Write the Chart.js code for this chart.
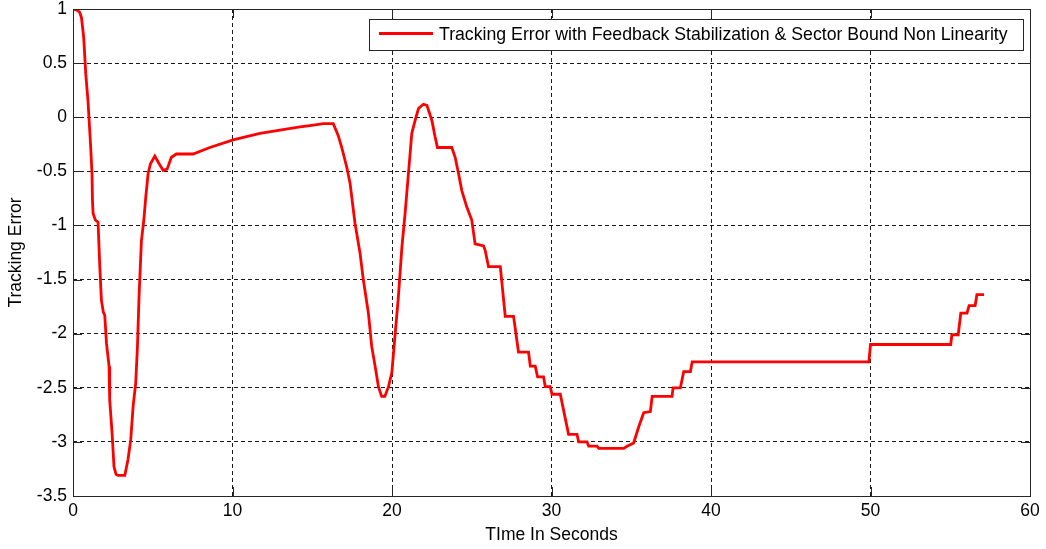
<!DOCTYPE html>
<html>
<head>
<meta charset="utf-8">
<script src="https://cdn.jsdelivr.net/npm/chart.js@4/dist/chart.umd.min.js"></script>
<style>
  html, body { margin: 0; padding: 0; background: #ffffff; }
  #wrap { width: 1046px; height: 549px; position: relative; }
</style>
</head>
<body>
<div id="wrap"><canvas id="c" width="1046" height="549"></canvas></div>
<script>
// ---- data ----
const seriesLabel = 'Tracking Error with Feedback Stabilization & Sector Bound Non Linearity';
const timeSeconds = [
  0, 0.25, 0.42, 0.53, 0.67, 0.80, 0.94, 1.0, 1.11, 1.19, 1.22, 1.26, 1.40, 1.57, 1.68, 1.78, 1.90, 1.99,
  2.10, 2.26, 2.30, 2.45, 2.57, 2.70, 2.82, 3.25, 3.45, 3.62, 3.77, 3.93, 4.04, 4.14, 4.29, 4.44, 4.56,
  4.71, 4.86, 5.13, 5.40, 5.65, 5.90, 6.17, 6.49, 7.53, 8.58, 10.04, 11.72, 14.23, 14.86, 15.69, 16.32,
  16.63, 16.85, 17.16, 17.37, 17.68, 18.0, 18.2, 18.52, 18.73, 18.94, 19.15, 19.35, 19.55, 19.78, 19.99,
  20.2, 20.4, 20.62, 20.82, 21.03, 21.24, 21.45, 21.66, 21.97, 22.19, 22.5, 22.7, 22.85, 23.75, 23.96,
  24.17, 24.38, 24.69, 25.0, 25.21, 25.74, 25.84, 26.05, 26.79, 27.1, 27.62, 27.93, 28.56, 28.67, 28.98,
  29.13, 29.5, 29.61, 29.92, 30.03, 30.55, 31.07, 31.6, 31.7, 32.23, 32.33, 32.85, 32.96, 34.53, 34.74,
  35.15, 35.47, 35.78, 36.2, 36.31, 37.56, 37.62, 38.08, 38.29, 38.71, 38.82, 49.9, 50.0, 55.03, 55.1,
  55.5, 55.66, 56.05, 56.18, 56.56, 56.67, 57.12
];
const trackingError = [
  1, 0.99, 0.97, 0.92, 0.74, 0.40, 0.15, 0, -0.28, -0.52, -0.77, -0.89, -0.95, -0.97, -1.38, -1.69, -1.80, -1.83,
  -2.09, -2.30, -2.61, -2.92, -3.23, -3.30, -3.31, -3.31, -3.16, -2.98, -2.67, -2.46, -2.12, -1.66, -1.14, -0.95, -0.74,
  -0.52, -0.43, -0.36, -0.43, -0.49, -0.48, -0.37, -0.34, -0.34, -0.28, -0.21, -0.15, -0.09, -0.077, -0.06, -0.06,
  -0.17, -0.28, -0.46, -0.61, -0.98, -1.26, -1.5, -1.81, -2.12, -2.30, -2.49, -2.58, -2.58, -2.49, -2.36,
  -2.0, -1.66, -1.2, -0.89, -0.52, -0.15, -0.03, 0.08, 0.12, 0.11, -0.03, -0.18, -0.28, -0.28, -0.37,
  -0.52, -0.68, -0.83, -0.95, -1.17, -1.19, -1.23, -1.38, -1.38, -1.84, -1.84, -2.17, -2.17, -2.30, -2.30,
  -2.40, -2.40, -2.49, -2.49, -2.56, -2.56, -2.93, -2.93, -3.0, -3.0, -3.04, -3.04, -3.06, -3.06, -3.04,
  -3.01, -2.86, -2.73, -2.72, -2.58, -2.58, -2.50, -2.50, -2.35, -2.35, -2.26, -2.26, -2.10, -2.10, -2.01,
  -2.01, -1.81, -1.81, -1.74, -1.74, -1.64, -1.64
];
const xTicks = [0, 10, 20, 30, 40, 50, 60];
const yTicks = [-3.5, -3, -2.5, -2, -1.5, -1, -0.5, 0, 0.5, 1];
const xTitle = 'TIme In Seconds';
const yTitle = 'Tracking Error';

// ---- styling ----
const FONT = 'Liberation Sans, Arial, sans-serif';
const FS = 17.5;
const AXIS_COLOR = '#262626';

const points = timeSeconds.map((t, i) => ({ x: t, y: trackingError[i] }));

const boxAndTicks = {
  id: 'boxAndTicks',
  afterDraw(chart) {
    const { ctx, chartArea: a, scales } = chart;
    const TL = 9;
    ctx.save();
    ctx.strokeStyle = AXIS_COLOR;
    ctx.lineWidth = 1;
    ctx.setLineDash([]);
    ctx.beginPath();
    xTicks.forEach(v => {
      const px = Math.round(scales.x.getPixelForValue(v)) + 0.5;
      ctx.moveTo(px, a.bottom); ctx.lineTo(px, a.bottom - TL);
      ctx.moveTo(px, a.top); ctx.lineTo(px, a.top + TL);
    });
    yTicks.forEach(v => {
      const py = Math.round(scales.y.getPixelForValue(v)) + 0.5;
      ctx.moveTo(a.left, py); ctx.lineTo(a.left + TL, py);
      ctx.moveTo(a.right, py); ctx.lineTo(a.right - TL, py);
    });
    ctx.stroke();
    ctx.strokeRect(Math.round(a.left) + 0.5, Math.round(a.top) + 0.5,
                   Math.round(a.right - a.left), Math.round(a.bottom - a.top));

    // legend box inside the axes (top right)
    const ds = chart.data.datasets[0];
    const LFS = 17.7;
    ctx.font = LFS + 'px ' + FONT;
    const tw = ctx.measureText(ds.label).width;
    const right = Math.round(a.right) - 7;
    const top = Math.round(a.top) + 10;
    const h = 31;
    const w = 10 + 54 + 6 + tw + 15;
    const left = Math.round(right - w);
    ctx.fillStyle = '#ffffff';
    ctx.fillRect(left, top, right - left, h);
    ctx.strokeStyle = AXIS_COLOR;
    ctx.strokeRect(left + 0.5, top + 0.5, right - left, h);
    const cy = top + h / 2 - 1;
    ctx.strokeStyle = ds.borderColor;
    ctx.lineWidth = ds.borderWidth;
    ctx.beginPath();
    ctx.moveTo(left + 10, cy); ctx.lineTo(left + 64, cy);
    ctx.stroke();
    ctx.fillStyle = '#000000';
    ctx.textBaseline = 'middle';
    ctx.textAlign = 'left';
    ctx.fillText(ds.label, left + 70, cy + 1.5);
    ctx.restore();
  }
};

new Chart(document.getElementById('c'), {
  type: 'line',
  data: {
    datasets: [{
      label: seriesLabel,
      data: points,
      borderColor: '#ff0000',
      backgroundColor: '#ff0000',
      borderWidth: 2.8,
      pointRadius: 0,
      tension: 0,
      fill: false
    }]
  },
  options: {
    responsive: false,
    animation: false,
    devicePixelRatio: 1,
    layout: { autoPadding: false, padding: { top: 9, right: 16, left: 0, bottom: 0 } },
    plugins: { legend: { display: false }, tooltip: { enabled: false } },
    scales: {
      x: {
        type: 'linear',
        min: 0, max: 60,
        afterBuildTicks(scale) { scale.ticks = xTicks.map(v => ({ value: v })); },
        afterFit(scale) { scale.height = 53; scale.paddingLeft = 0; scale.paddingRight = 0; },
        grid: { color: '#1a1a1a', lineWidth: 1, drawTicks: false },
        border: { display: false, dash: [4, 3] },
        ticks: { color: '#000', font: { family: FONT, size: FS }, padding: 5, maxRotation: 0,
                 callback: v => String(v) },
        title: { display: true, text: xTitle, color: '#000', font: { family: FONT, size: FS },
                 padding: { top: 0, bottom: 3.5 } }
      },
      y: {
        type: 'linear',
        min: -3.5, max: 1,
        afterBuildTicks(scale) { scale.ticks = yTicks.map(v => ({ value: v })); },
        afterFit(scale) { scale.width = 73; scale.paddingTop = 0; scale.paddingBottom = 0; },
        grid: { color: '#1a1a1a', lineWidth: 1, drawTicks: false },
        border: { display: false, dash: [4, 3] },
        ticks: { color: '#000', font: { family: FONT, size: FS }, padding: 6,
                 callback: v => String(v) },
        title: { display: true, text: yTitle, color: '#000', font: { family: FONT, size: FS },
                 padding: { top: 5.5, bottom: 0 } }
      }
    }
  },
  plugins: [boxAndTicks]
});
</script>
</body>
</html>
